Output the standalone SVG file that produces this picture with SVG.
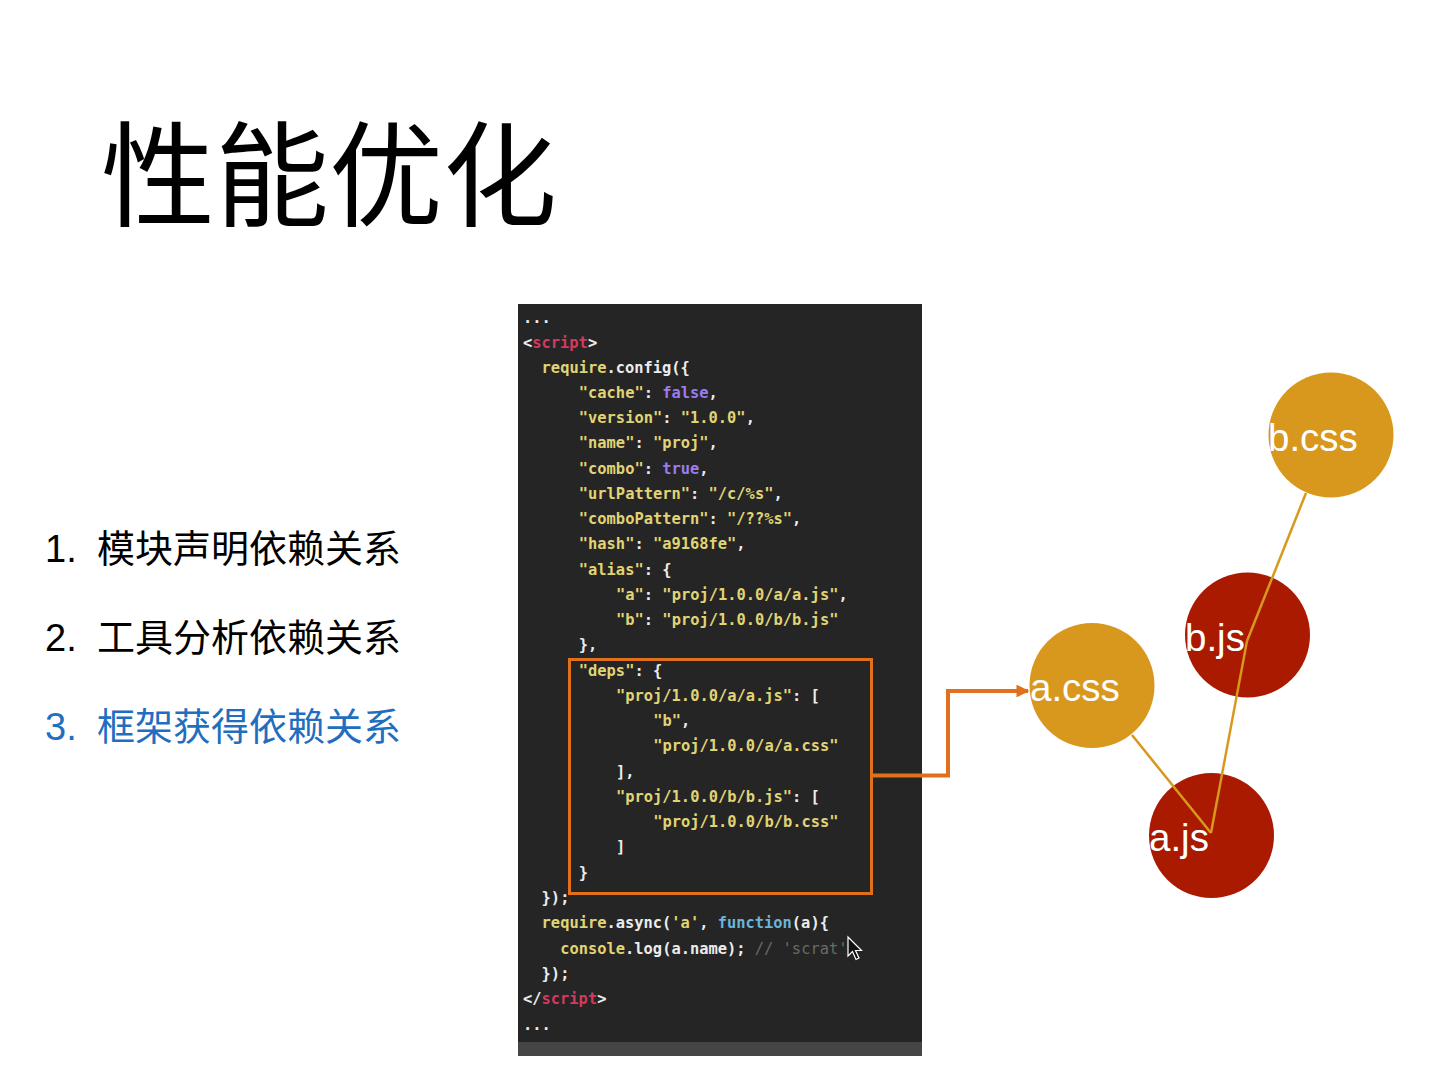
<svg xmlns="http://www.w3.org/2000/svg" width="1440" height="1080" viewBox="0 0 1440 1080">
<defs>
<style>
.title{font-family:"Liberation Sans","Noto Sans CJK SC",sans-serif;font-size:114px;fill:#000}
.item{font-family:"Liberation Sans","Noto Sans CJK SC",sans-serif;font-size:38px;fill:#000}
.cur{fill:#1f6ebf}
.code{font-family:"DejaVu Sans Mono","Liberation Mono",monospace;font-size:15.4px;font-weight:bold;fill:#ececec}
.y{fill:#e0d474}
.p{fill:#d23a5e}
.v{fill:#9a7cf0}
.b{fill:#6cb4dc}
.g{fill:#6a6a62;font-weight:normal}
.lbl{font-family:"Liberation Sans",sans-serif;font-size:38.5px;fill:#fff}
.gold{fill:#d8981e}
.red{fill:#a91a00}
.edge{stroke:#d8981e;stroke-width:2.5;fill:none}
</style>
<marker id="arr" viewBox="0 0 10 10" refX="9" refY="5" markerWidth="3.2" markerHeight="3.2" orient="auto" markerUnits="strokeWidth">
<path d="M0,0 L10,5 L0,10 z" fill="#e0701c"/>
</marker>
</defs>
<rect width="1440" height="1080" fill="#fff"/>

<g id="title"><text class="title" x="101" y="217">性能优化</text></g>

<g id="list">
<text class="item" x="45" y="562">1.<tspan x="97">模块声明依赖关系</tspan></text>
<text class="item" x="45" y="651">2.<tspan x="97">工具分析依赖关系</tspan></text>
<text class="item cur" x="45" y="740">3.<tspan x="97">框架获得依赖关系</tspan></text>
</g>

<g id="code-block">
<rect x="518" y="304" width="404" height="752" fill="#252525"/>
<rect x="518" y="1042" width="404" height="14" fill="#454545"/>
<g class="code">
<text x="523" y="323">...</text>
<text x="523" y="348">&lt;<tspan class="p">script</tspan>&gt;</text>
<text x="541.6" y="373"><tspan class="y">require</tspan>.config({</text>
<text x="578.8" y="398"><tspan class="y">"cache"</tspan>: <tspan class="v">false</tspan>,</text>
<text x="578.8" y="423"><tspan class="y">"version"</tspan>: <tspan class="y">"1.0.0"</tspan>,</text>
<text x="578.8" y="448"><tspan class="y">"name"</tspan>: <tspan class="y">"proj"</tspan>,</text>
<text x="578.8" y="474"><tspan class="y">"combo"</tspan>: <tspan class="v">true</tspan>,</text>
<text x="578.8" y="499"><tspan class="y">"urlPattern"</tspan>: <tspan class="y">"/c/%s"</tspan>,</text>
<text x="578.8" y="524"><tspan class="y">"comboPattern"</tspan>: <tspan class="y">"/??%s"</tspan>,</text>
<text x="578.8" y="549"><tspan class="y">"hash"</tspan>: <tspan class="y">"a9168fe"</tspan>,</text>
<text x="578.8" y="575"><tspan class="y">"alias"</tspan>: {</text>
<text x="616" y="600"><tspan class="y">"a"</tspan>: <tspan class="y">"proj/1.0.0/a/a.js"</tspan>,</text>
<text x="616" y="625"><tspan class="y">"b"</tspan>: <tspan class="y">"proj/1.0.0/b/b.js"</tspan></text>
<text x="578.8" y="650">},</text>
<text x="578.8" y="676"><tspan class="y">"deps"</tspan>: {</text>
<text x="616" y="701"><tspan class="y">"proj/1.0.0/a/a.js"</tspan>: [</text>
<text x="653.2" y="726"><tspan class="y">"b"</tspan>,</text>
<text x="653.2" y="751"><tspan class="y">"proj/1.0.0/a/a.css"</tspan></text>
<text x="616" y="777">],</text>
<text x="616" y="802"><tspan class="y">"proj/1.0.0/b/b.js"</tspan>: [</text>
<text x="653.2" y="827"><tspan class="y">"proj/1.0.0/b/b.css"</tspan></text>
<text x="616" y="852">]</text>
<text x="578.8" y="878">}</text>
<text x="541.6" y="903">});</text>
<text x="541.6" y="928"><tspan class="y">require</tspan>.async(<tspan class="y">'a'</tspan>, <tspan class="b">function</tspan>(a){</text>
<text x="560.2" y="954"><tspan class="y">console</tspan>.log(a.name); <tspan class="g">// 'scrat'</tspan></text>
<text x="541.6" y="979">});</text>
<text x="523" y="1004">&lt;/<tspan class="p">script</tspan>&gt;</text>
<text x="523" y="1030">...</text>
</g>
<path d="M848,937 L848,956 L852.5,951.5 L856,959.5 L859,958 L855.5,950.5 L861.5,950.5 Z" fill="#111" stroke="#fff" stroke-width="1.2"/>
<rect x="569.5" y="659.5" width="302" height="234" fill="none" stroke="#e0701c" stroke-width="3"/>
</g>

<g id="nodes">
<g id="node-bcss"><circle class="gold" cx="1331" cy="435" r="62.5"/></g>
<g id="node-bjs"><circle class="red" cx="1247.5" cy="635" r="62.5"/></g>
<g id="node-acss"><circle class="gold" cx="1092" cy="685.5" r="62.5"/></g>
<g id="node-ajs"><circle class="red" cx="1211.5" cy="835.5" r="62.5"/></g>
</g>

<g id="connectors">
<path d="M872,775.5 H948 V691 H1028" fill="none" stroke="#e0701c" stroke-width="4" marker-end="url(#arr)"/>
<path class="edge" d="M1306,493 L1247,641"/>
<path class="edge" d="M1247,641 L1211,833"/>
<path class="edge" d="M1132,735 L1211,833"/>
</g>

<g id="labels">
<text class="lbl" x="1268" y="451">b.css</text>
<text class="lbl" x="1185" y="651">b.js</text>
<text class="lbl" x="1030" y="701">a.css</text>
<text class="lbl" x="1149" y="851">a.js</text>
</g>
</svg>
